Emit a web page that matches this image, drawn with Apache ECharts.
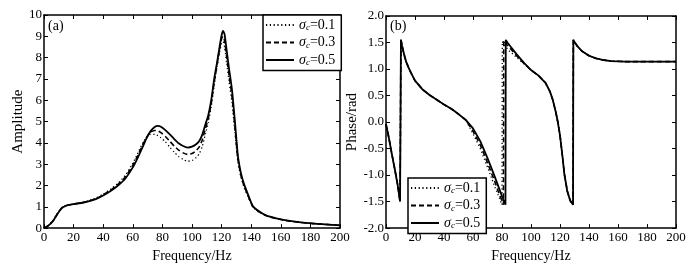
<!DOCTYPE html>
<html>
<head>
<meta charset="utf-8">
<script src="https://cdn.jsdelivr.net/npm/echarts@6/dist/echarts.min.js"></script>
<style>html,body{margin:0;padding:0;background:#fff;}#c{width:694px;height:268px;}</style>
</head>
<body>
<div id="c"></div>
<script>
// ---- Data ----
const seriesNames = ['σc=0.1', 'σc=0.3', 'σc=0.5'];
const xTicks = [0, 20, 40, 60, 80, 100, 120, 140, 160, 180, 200];

// Amplitude (panel a)
const ampFreq = [0,3,6,9,12,15,18,22,26,30,35,40,45,50,55,60,63,66,69,72,75,77,79,82,85,88,91,94,97,100,103,105,107,109,111,113,115,117,118.5,120,121,122,123.5,125,127,129,131,133,135,138,141,145,150,157,165,175,185,200];
const amp01 = [0,0.13,0.34,0.68,0.96,1.07,1.11,1.16,1.21,1.28,1.4,1.6,1.83,2.1,2.48,3.05,3.45,3.9,4.25,4.4,4.4,4.34,4.24,4.05,3.8,3.56,3.36,3.22,3.14,3.17,3.32,3.5,3.85,4.4,4.95,5.7,6.7,7.6,8.2,8.7,8.75,8.5,7.7,6.9,5.9,4.5,3.1,2.4,1.95,1.45,1.0,0.76,0.58,0.44,0.34,0.25,0.19,0.13];
const amp03 = [0,0.12,0.33,0.67,0.95,1.06,1.1,1.15,1.2,1.26,1.38,1.56,1.78,2.05,2.4,2.95,3.35,3.8,4.22,4.5,4.58,4.56,4.48,4.3,4.08,3.85,3.66,3.53,3.46,3.5,3.65,3.82,4.15,4.65,5.15,5.85,6.85,7.7,8.35,8.9,9.0,8.8,8.0,7.2,6.2,4.75,3.25,2.5,2.02,1.5,1.02,0.78,0.59,0.45,0.34,0.26,0.2,0.13];
const amp05 = [0,0.12,0.32,0.65,0.94,1.05,1.1,1.15,1.19,1.25,1.36,1.53,1.74,2.0,2.33,2.85,3.25,3.7,4.18,4.55,4.76,4.8,4.76,4.6,4.4,4.18,3.98,3.85,3.78,3.82,3.95,4.1,4.4,4.85,5.3,6.0,7.0,7.8,8.45,9.05,9.25,9.1,8.3,7.5,6.5,5.0,3.4,2.6,2.1,1.55,1.05,0.8,0.6,0.46,0.35,0.26,0.2,0.13];

// Phase (panel b): shared start, per-series middle, shared end
const phaseStartFreq = [0,2,4,6,8,9.7,10.3,11,12,13,14,15.5,17,20,25,30,35,40,45,50,55];
const phaseStart = [-0.04,-0.3,-0.6,-0.88,-1.18,-1.5,1.55,1.45,1.33,1.22,1.13,1.03,0.94,0.78,0.62,0.51,0.42,0.33,0.25,0.15,0.04];
const phaseMidFreq01 = [60,65,70,75,78,80,80.2,82,85,90,95];
const phaseMid01 = [-0.22,-0.5,-0.85,-1.22,-1.42,-1.56,1.52,1.44,1.34,1.22,1.1];
const phaseMidFreq03 = [60,65,70,75,78,81,81.2,83,86,90,95];
const phaseMid03 = [-0.17,-0.43,-0.77,-1.12,-1.35,-1.56,1.54,1.47,1.38,1.25,1.11];
const phaseMidFreq05 = [60,65,70,75,78,80,82.4,82.6,84,86,90,95];
const phaseMid05 = [-0.12,-0.36,-0.68,-1.03,-1.25,-1.4,-1.56,1.55,1.49,1.42,1.28,1.12];
const phaseEndFreq = [100,105,110,113,115,117,118.5,120,122,123,125,127,129,129.2,130,132,135,140,145,150,155,165,180,200];
const phaseEnd = [0.98,0.88,0.74,0.58,0.42,0.2,0.0,-0.25,-0.72,-0.98,-1.3,-1.48,-1.56,1.55,1.51,1.43,1.34,1.25,1.2,1.17,1.15,1.14,1.14,1.14];

// ---- Build ----
function pairs(xs, ys) { return xs.map((x, i) => [x, ys[i]]); }
function phaseSeries(mf, mv) {
  return pairs(phaseStartFreq, phaseStart).concat(pairs(mf, mv), pairs(phaseEndFreq, phaseEnd));
}
const FONT = 'Liberation Serif';
const styles = [
  { type: [1.2, 2.6], width: 1.3 },
  { type: [5, 3], width: 1.6 },
  { type: 'solid', width: 1.8 }
];
function mkSeries(name, data, idx, gi, smooth) {
  return {
    name: name, type: 'line', xAxisIndex: gi * 2, yAxisIndex: gi * 2,
    data: data, symbol: 'none', showSymbol: false, smooth: smooth, animation: false,
    lineStyle: { color: '#000', width: styles[idx].width, type: styles[idx].type },
    itemStyle: { color: '#000' }
  };
}
function xAx(gi, top) {
  return {
    type: 'value', gridIndex: gi, min: 0, max: 200, interval: 20,
    position: top ? 'top' : 'bottom',
    name: top ? '' : 'Frequency/Hz', nameLocation: 'middle', nameGap: 18,
    nameTextStyle: { fontFamily: FONT, fontSize: 14, color: '#000' },
    axisLine: { show: true, onZero: false, lineStyle: { color: '#000', width: 1.5 } },
    axisTick: { show: true, inside: true, length: 4, lineStyle: { color: '#000' } },
    axisLabel: { show: !top, fontFamily: FONT, fontSize: 13, color: '#000', margin: 3 },
    splitLine: { show: false }
  };
}
function yAx(gi, right, min, max, interval, name, gap, fmt) {
  return {
    type: 'value', gridIndex: gi, min: min, max: max, interval: interval,
    position: right ? 'right' : 'left',
    name: right ? '' : name, nameLocation: 'middle', nameGap: gap,
    nameTextStyle: { fontFamily: FONT, fontSize: 15, color: '#000' },
    axisLine: { show: true, onZero: false, lineStyle: { color: '#000', width: 1.5 } },
    axisTick: { show: true, inside: true, length: 4, lineStyle: { color: '#000' } },
    axisLabel: { show: !right, fontFamily: FONT, fontSize: 13, color: '#000', margin: 2, formatter: fmt },
    splitLine: { show: false }
  };
}
const rich = {
  i: { fontFamily: FONT, fontStyle: 'italic', fontSize: 14, color: '#000' },
  s: { fontFamily: FONT, fontStyle: 'italic', fontSize: 9, color: '#000', padding: [6, 0, 0, 0] },
  n: { fontFamily: FONT, fontSize: 14, color: '#000' }
};
function legendFmt(name) {
  const v = name.split('=')[1];
  return '{i|σ}{s|c}{n|=' + v + '}';
}
function mkLegend(left, top) {
  return {
    orient: 'vertical', left: left, top: top, data: seriesNames,
    itemWidth: 28, itemHeight: 12, itemGap: 3, padding: [3, 6, 3, 2],
    backgroundColor: '#fff', borderColor: '#000', borderWidth: 1.5, borderRadius: 0,
    itemStyle: { opacity: 0 },
    formatter: legendFmt, textStyle: { rich: rich, fontFamily: FONT, fontSize: 14, color: '#000' },
    selectedMode: false
  };
}
const option = {
  backgroundColor: '#fff',
  animation: false,
  grid: [
    { left: 44, top: 15, width: 296, height: 217 },
    { left: 386, top: 16, width: 290, height: 216 }
  ],
  xAxis: [xAx(0, false), xAx(0, true), xAx(1, false), xAx(1, true)],
  yAxis: [
    yAx(0, false, 0, 10, 1, 'Amplitude', 11),
    yAx(0, true, 0, 10, 1, '', 0),
    yAx(1, false, -2, 2, 0.5, 'Phase/rad', 19, v => v.toFixed(1)),
    yAx(1, true, -2, 2, 0.5, '', 0)
  ],
  legend: [mkLegend(263, 15), mkLegend(408, 178)],
  series: [
    mkSeries(seriesNames[0], pairs(ampFreq, amp01), 0, 0, 0.2),
    mkSeries(seriesNames[1], pairs(ampFreq, amp03), 1, 0, 0.2),
    mkSeries(seriesNames[2], pairs(ampFreq, amp05), 2, 0, 0.2),
    mkSeries(seriesNames[0], phaseSeries(phaseMidFreq01, phaseMid01), 0, 1, false),
    mkSeries(seriesNames[1], phaseSeries(phaseMidFreq03, phaseMid03), 1, 1, false),
    mkSeries(seriesNames[2], phaseSeries(phaseMidFreq05, phaseMid05), 2, 1, false)
  ],
  graphic: [
    { type: 'text', left: 48, top: 19, style: { text: '(a)', font: '14px "Liberation Serif"', fill: '#000' } },
    { type: 'text', left: 390, top: 19, style: { text: '(b)', font: '14px "Liberation Serif"', fill: '#000' } }
  ]
};
const chart = echarts.init(document.getElementById('c'), null, { renderer: 'canvas' });
chart.setOption(option);
</script>
</body>
</html>
